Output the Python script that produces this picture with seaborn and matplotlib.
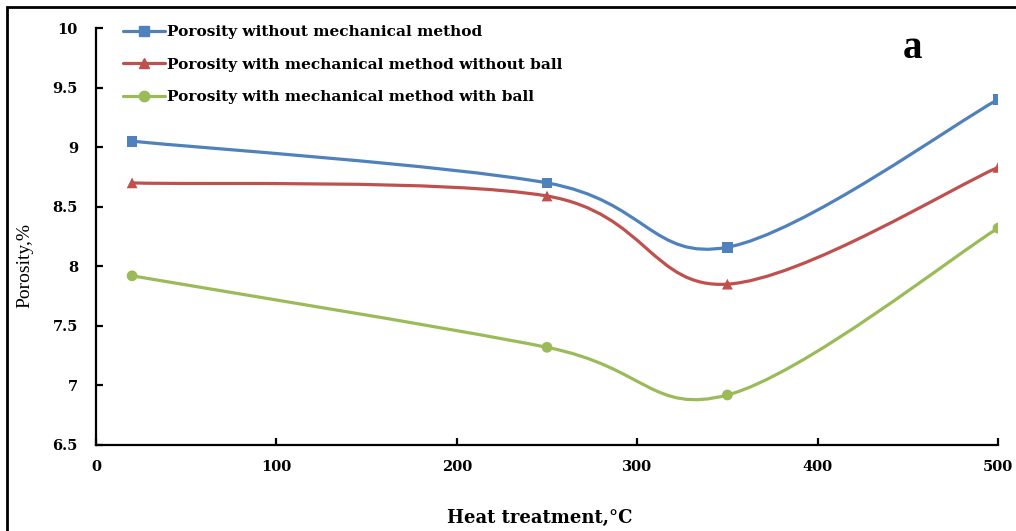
import numpy as np
import pandas as pd
import matplotlib
matplotlib.use("Agg")
import matplotlib.pyplot as plt
import seaborn as sns
from matplotlib.path import Path
from matplotlib.patches import PathPatch, Rectangle
from matplotlib.lines import Line2D

# Heat treatment temperatures (°C) and measured porosity (%)
temperature = [20, 250, 350, 500]
porosity_no_mech = [9.05, 8.70, 8.16, 9.40]
porosity_mech_no_ball = [8.70, 8.59, 7.85, 8.83]
porosity_mech_ball = [7.92, 7.32, 6.92, 8.32]

series_names = [
    "Porosity without mechanical method",
    "Porosity with mechanical method without ball",
    "Porosity with mechanical method with ball",
]
series_values = [porosity_no_mech, porosity_mech_no_ball, porosity_mech_ball]
colors = ["#4F81BD", "#C0504D", "#9BBB59"]
markers = ["s", "^", "o"]

x_ticks = [0, 100, 200, 300, 400, 500]
y_ticks = [6.5, 7, 7.5, 8, 8.5, 9, 9.5, 10]
y_tick_labels = ["6.5", "7", "7.5", "8", "8.5", "9", "9.5", "10"]

sns.set_theme(style="ticks")
plt.rcParams["font.family"] = ["DejaVu Serif"]
plt.rcParams["text.color"] = "black"
plt.rcParams["axes.labelcolor"] = "black"

BOLD = ["DejaVu Serif"]
TIMES = ["Liberation Serif", "DejaVu Serif"]

fig = plt.figure(figsize=(10.16, 5.31), dpi=100)
ax = fig.add_axes([96 / 1016, 1 - 445 / 531, (998 - 96) / 1016, (445 - 28) / 531])


def smooth_path(xs, ys):
    """Cubic Bezier path through the points (Catmull-Rom style tangents)."""
    pts = np.column_stack([xs, ys]).astype(float)
    n = len(pts)
    verts = [pts[0]]
    codes = [Path.MOVETO]
    for i in range(n - 1):
        p_prev = pts[i - 1] if i > 0 else pts[i]
        p0 = pts[i]
        p1 = pts[i + 1]
        p_next = pts[i + 2] if i + 2 < n else pts[i + 1]
        c1 = p0 + (p1 - p_prev) / 6.0
        c2 = p1 - (p_next - p0) / 6.0
        verts += [c1, c2, p1]
        codes += [Path.CURVE4] * 3
    return Path(verts, codes)


df = pd.DataFrame(
    {
        "temperature": temperature * 3,
        "porosity": porosity_no_mech + porosity_mech_no_ball + porosity_mech_ball,
        "series": sum([[name] * len(temperature) for name in series_names], []),
    }
)

handles = []
for name, vals, color, mk in zip(series_names, series_values, colors, markers):
    ax.add_patch(
        PathPatch(smooth_path(temperature, vals), facecolor="none",
                  edgecolor=color, lw=2.3, zorder=2)
    )
    handles.append(Line2D([], [], color=color, lw=2.3, marker=mk,
                          markersize=7.5, markeredgecolor=color))

sns.scatterplot(
    data=df, x="temperature", y="porosity", hue="series", style="series",
    palette=colors, markers=markers, hue_order=series_names,
    style_order=series_names, s=60, edgecolor="none", legend=False,
    ax=ax, zorder=3,
)

ax.set_xlim(0, 500)
ax.set_ylim(6.5, 10)
ax.set_xticks(x_ticks)
ax.set_yticks(y_ticks)
ax.set_yticklabels(y_tick_labels)

for side in ["top", "right"]:
    ax.spines[side].set_visible(False)
for side in ["left", "bottom"]:
    ax.spines[side].set_linewidth(1.6)
    ax.spines[side].set_color("black")

ax.tick_params(axis="both", direction="in", length=5, width=1.6,
               colors="black", labelsize=10.5)
ax.tick_params(axis="y", pad=13)
ax.tick_params(axis="x", pad=11)
for lbl in ax.get_xticklabels() + ax.get_yticklabels():
    lbl.set_fontweight("bold")
    lbl.set_family(BOLD)

ax.set_xlabel("Heat treatment,°C", fontsize=13, fontweight="bold", family=BOLD)
ax.xaxis.label.set_va("center")
ax.set_ylabel("Porosity,%", fontsize=14, family=TIMES)
ax.yaxis.label.set_va("center")
ax.xaxis.set_label_coords(0.492, -0.175)
ax.yaxis.set_label_coords(-0.079, 0.43)

leg = ax.legend(handles, series_names, loc="upper left",
                bbox_to_anchor=(0.014, 1.040), frameon=False, handlelength=2.75,
                handletextpad=0.15, labelspacing=1.2,
                prop={"weight": "bold", "size": 11.1, "family": BOLD})
for t in leg.get_texts():
    t.set_color("black")

ax.text(0.905, 0.952, "a", transform=ax.transAxes, fontsize=28,
        fontweight="bold", ha="center", va="center", family=TIMES,
        color="black")

# outer frame
fig.patches.append(
    Rectangle((7 / 1016, -0.05), 1.1, 1 - 7 / 531 + 0.05,
              transform=fig.transFigure, fill=False, edgecolor="black",
              lw=2, clip_on=False)
)

fig.savefig("out.png", dpi=100)
